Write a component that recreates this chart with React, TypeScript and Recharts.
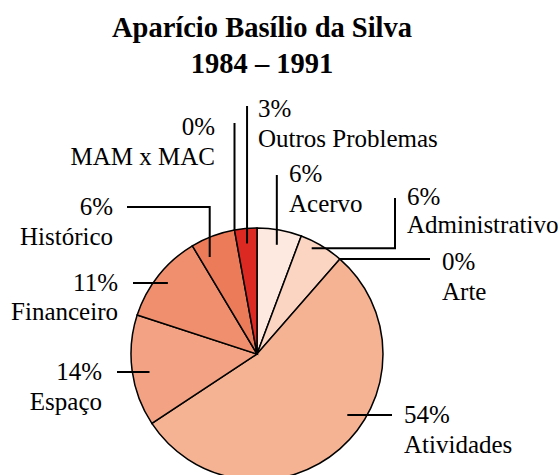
import React from "react";
import { Cell, Pie, PieChart } from "recharts";

// counts per category (percentages shown are rounded shares)
const categories = [
  "Acervo",
  "Administrativo",
  "Arte",
  "Atividades",
  "Espaço",
  "Financeiro",
  "Histórico",
  "MAM x MAC",
  "Outros Problemas",
];
const counts = [2, 2, 0, 19, 5, 4, 2, 0, 1];
const colors = [
  "#fde9df",
  "#fbd5c2",
  "#f8c4ab",
  "#f5b394",
  "#f3a283",
  "#ef8f6d",
  "#ec7b5a",
  "#e5503b",
  "#dc2a22",
];

const data = categories.map((name, i) => ({ name, value: counts[i] }));

type Seg = ["h" | "v", number];
type LabelLayout = {
  r: number;
  shift: number;
  path: Seg[];
  dx: number;
  dy: number;
  anchor: "start" | "end";
  gap?: number;
};

// leader-line + text placement, relative to the pie centre
const layouts: LabelLayout[] = [
  { r: 111, shift: 0, path: [["v", -179]], dx: 32, dy: -172, anchor: "start" },
  { r: 119, shift: -3.5, path: [["h", 138], ["v", -156]], dx: 150, dy: -149, anchor: "start", gap: 28 },
  { r: 126, shift: 0, path: [["h", 173]], dx: 185, dy: -84, anchor: "start" },
  { r: 109, shift: -14.8, path: [["h", 135]], dx: 147, dy: 69, anchor: "start" },
  { r: 109, shift: -1.8, path: [["h", -140]], dx: -155, dy: 26, anchor: "end" },
  { r: 114, shift: 0, path: [["h", -124]], dx: -139, dy: -63, anchor: "end", gap: 29 },
  { r: 108, shift: -5.4, path: [["v", -147], ["h", -130]], dx: -144, dy: -139, anchor: "end" },
  { r: 126, shift: 0, path: [["v", -231]], dx: -42, dy: -219, anchor: "end" },
  { r: 111, shift: 0, path: [["v", -248]], dx: 1, dy: -237, anchor: "start" },
];

const font = "'Liberation Serif', 'Times New Roman', serif";
const RAD = Math.PI / 180;

const renderLabel = (props: any) => {
  const { cx, cy, midAngle, index, percent, name } = props;
  const l = layouts[index];
  if (!l) return null;
  const a = (midAngle - l.shift) * RAD;
  let x = cx + l.r * Math.cos(a);
  let y = cy - l.r * Math.sin(a);
  const pts = [`${x},${y}`];
  l.path.forEach(([k, v]) => {
    if (k === "h") x = cx + v;
    else y = cy + v;
    pts.push(`${x},${y}`);
  });
  const tx = cx + l.dx;
  const ty = cy + l.dy;
  return (
    <g key={`lbl-${index}`}>
      <polyline points={pts.join(" ")} fill="none" stroke="#000" strokeWidth={2} />
      <text x={tx} y={ty} textAnchor={l.anchor} fontFamily={font} fontSize={25} fill="#000">
        {`${Math.round(percent * 100)}%`}
      </text>
      <text x={tx} y={ty + (l.gap ?? 30)} textAnchor={l.anchor} fontFamily={font} fontSize={25} fill="#000">
        {name}
      </text>
    </g>
  );
};

export default function App() {
  return (
    <div style={{ position: "absolute", left: 0, top: 0, width: 560, height: 475, background: "#fff" }}>
      <div
        style={{
          position: "absolute",
          left: 0,
          top: 10,
          width: 524,
          textAlign: "center",
          fontFamily: font,
          fontWeight: "bold",
          fontSize: 28.5,
          lineHeight: "36px",
          color: "#000",
        }}
      >
        Aparício Basílio da Silva
        <br />
        1984 – 1991
      </div>
      <PieChart
        width={560}
        height={475}
        margin={{ top: 0, right: 0, bottom: 0, left: 0 }}
        style={{ position: "absolute", left: 0, top: 0 }}
      >
        <Pie
          data={data}
          dataKey="value"
          nameKey="name"
          cx={257}
          cy={354}
          outerRadius={126}
          startAngle={90}
          endAngle={-270}
          stroke="#000"
          strokeWidth={1.5}
          label={renderLabel}
          labelLine={false}
          isAnimationActive={false}
        >
          {data.map((d, i) => (
            <Cell key={d.name} fill={colors[i]} />
          ))}
        </Pie>
      </PieChart>
    </div>
  );
}
